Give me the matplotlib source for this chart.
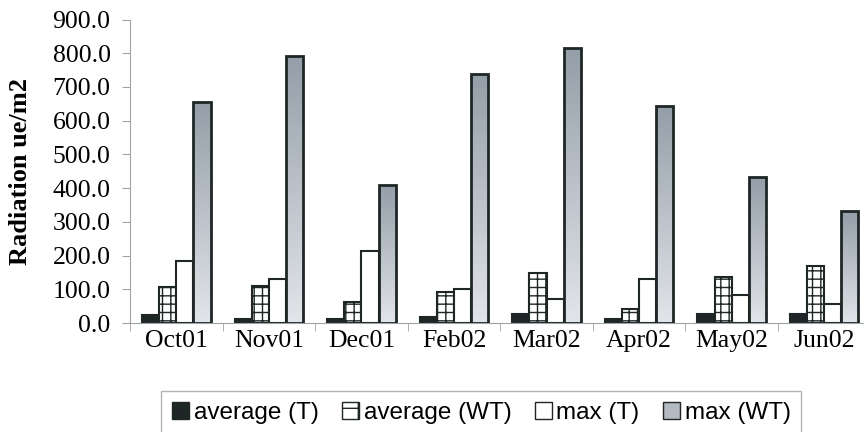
import numpy as np
import matplotlib
matplotlib.use('Agg')
import matplotlib.pyplot as plt
from matplotlib.patches import Patch

months = ['Oct01', 'Nov01', 'Dec01', 'Feb02', 'Mar02', 'Apr02', 'May02', 'Jun02']
avg_t = [24, 13, 13, 18, 28, 13, 28, 28]
avg_wt = [106, 111, 62, 91, 149, 41, 135, 168]
max_t = [184, 131, 214, 102, 70, 130, 84, 55]
max_wt = [654, 792, 409, 739, 817, 645, 434, 331]
labels = ['average (T)', 'average (WT)', 'max (T)', 'max (WT)']

plt.rcParams['hatch.linewidth'] = 1.0

fig = plt.figure(figsize=(8.64, 4.32), dpi=100)
ax = fig.add_axes([0.1505, 0.2523, 0.857, 0.7025])

x = np.arange(len(months))
w = 0.185
edge = '#1e2626'

ax.bar(x - 1.5*w, avg_t, w, color='#1e2626', edgecolor=edge, lw=1.5)
ax.bar(x - 0.5*w, avg_wt, w, color='white', edgecolor=edge, lw=1.5, hatch='++')
ax.bar(x + 0.5*w, max_t, w, color='white', edgecolor=edge, lw=1.5)
bars = ax.bar(x + 1.5*w, max_wt, w, color='none', edgecolor=edge, lw=2, zorder=3)

# vertical gradient for max (WT)
grad = np.linspace(0, 1, 256).reshape(-1, 1)
cmap = matplotlib.colors.LinearSegmentedColormap.from_list('g', ['#e2e5e9', '#949ea8'])
for b in bars:
    bx, by = b.get_x(), b.get_y()
    im = ax.imshow(grad, cmap=cmap, origin='lower', aspect='auto',
                   extent=[bx, bx + b.get_width(), by, by + b.get_height()], zorder=2)
    im.set_clip_path(b)

ax.set_xlim(-0.5, 7.5)
ax.set_ylim(0, 900)
ax.set_yticks(np.arange(0, 901, 100))
ax.set_yticklabels(['%.1f' % v for v in np.arange(0, 901, 100)],
                   family='Liberation Serif', fontsize=18.5)
ax.set_xticks(x)
ax.set_xticklabels(months, family='Liberation Serif', fontsize=18.5)
ax.set_xticks(np.arange(-0.5, 8, 1), minor=True)
ax.tick_params(axis='x', which='major', length=0, pad=5)
ax.tick_params(axis='x', which='minor', length=6, color='#a0a4a8', direction='out')
ax.tick_params(axis='y', length=6, color='#a0a4a8', pad=8)
for s in ['top', 'right']:
    ax.spines[s].set_visible(False)
ax.spines['left'].set_color('#a0a4a8')
ax.spines['bottom'].set_color('#a0a4a8')
ax.set_ylabel('Radiation ue/m2', family='Liberation Serif', fontweight='bold', fontsize=19)
ax.yaxis.set_label_coords(-0.133, 0.5)

handles = [Patch(facecolor='#1e2626', edgecolor=edge),
           Patch(facecolor='white', edgecolor=edge, hatch='+'),
           Patch(facecolor='white', edgecolor=edge),
           Patch(facecolor='#b3bac2', edgecolor=edge)]
leg = fig.legend(handles, labels, loc='lower center', bbox_to_anchor=(0.557, -0.035), ncol=4,
                 prop={'family': 'Liberation Sans', 'size': 17.5}, frameon=True, fancybox=False,
                 handlelength=0.7, handleheight=0.7, handletextpad=0.2, columnspacing=0.95,
                 borderpad=0.45, edgecolor='#a0a4a8')
leg.get_frame().set_linewidth(1.0)

fig.savefig('out.png', dpi=100)
